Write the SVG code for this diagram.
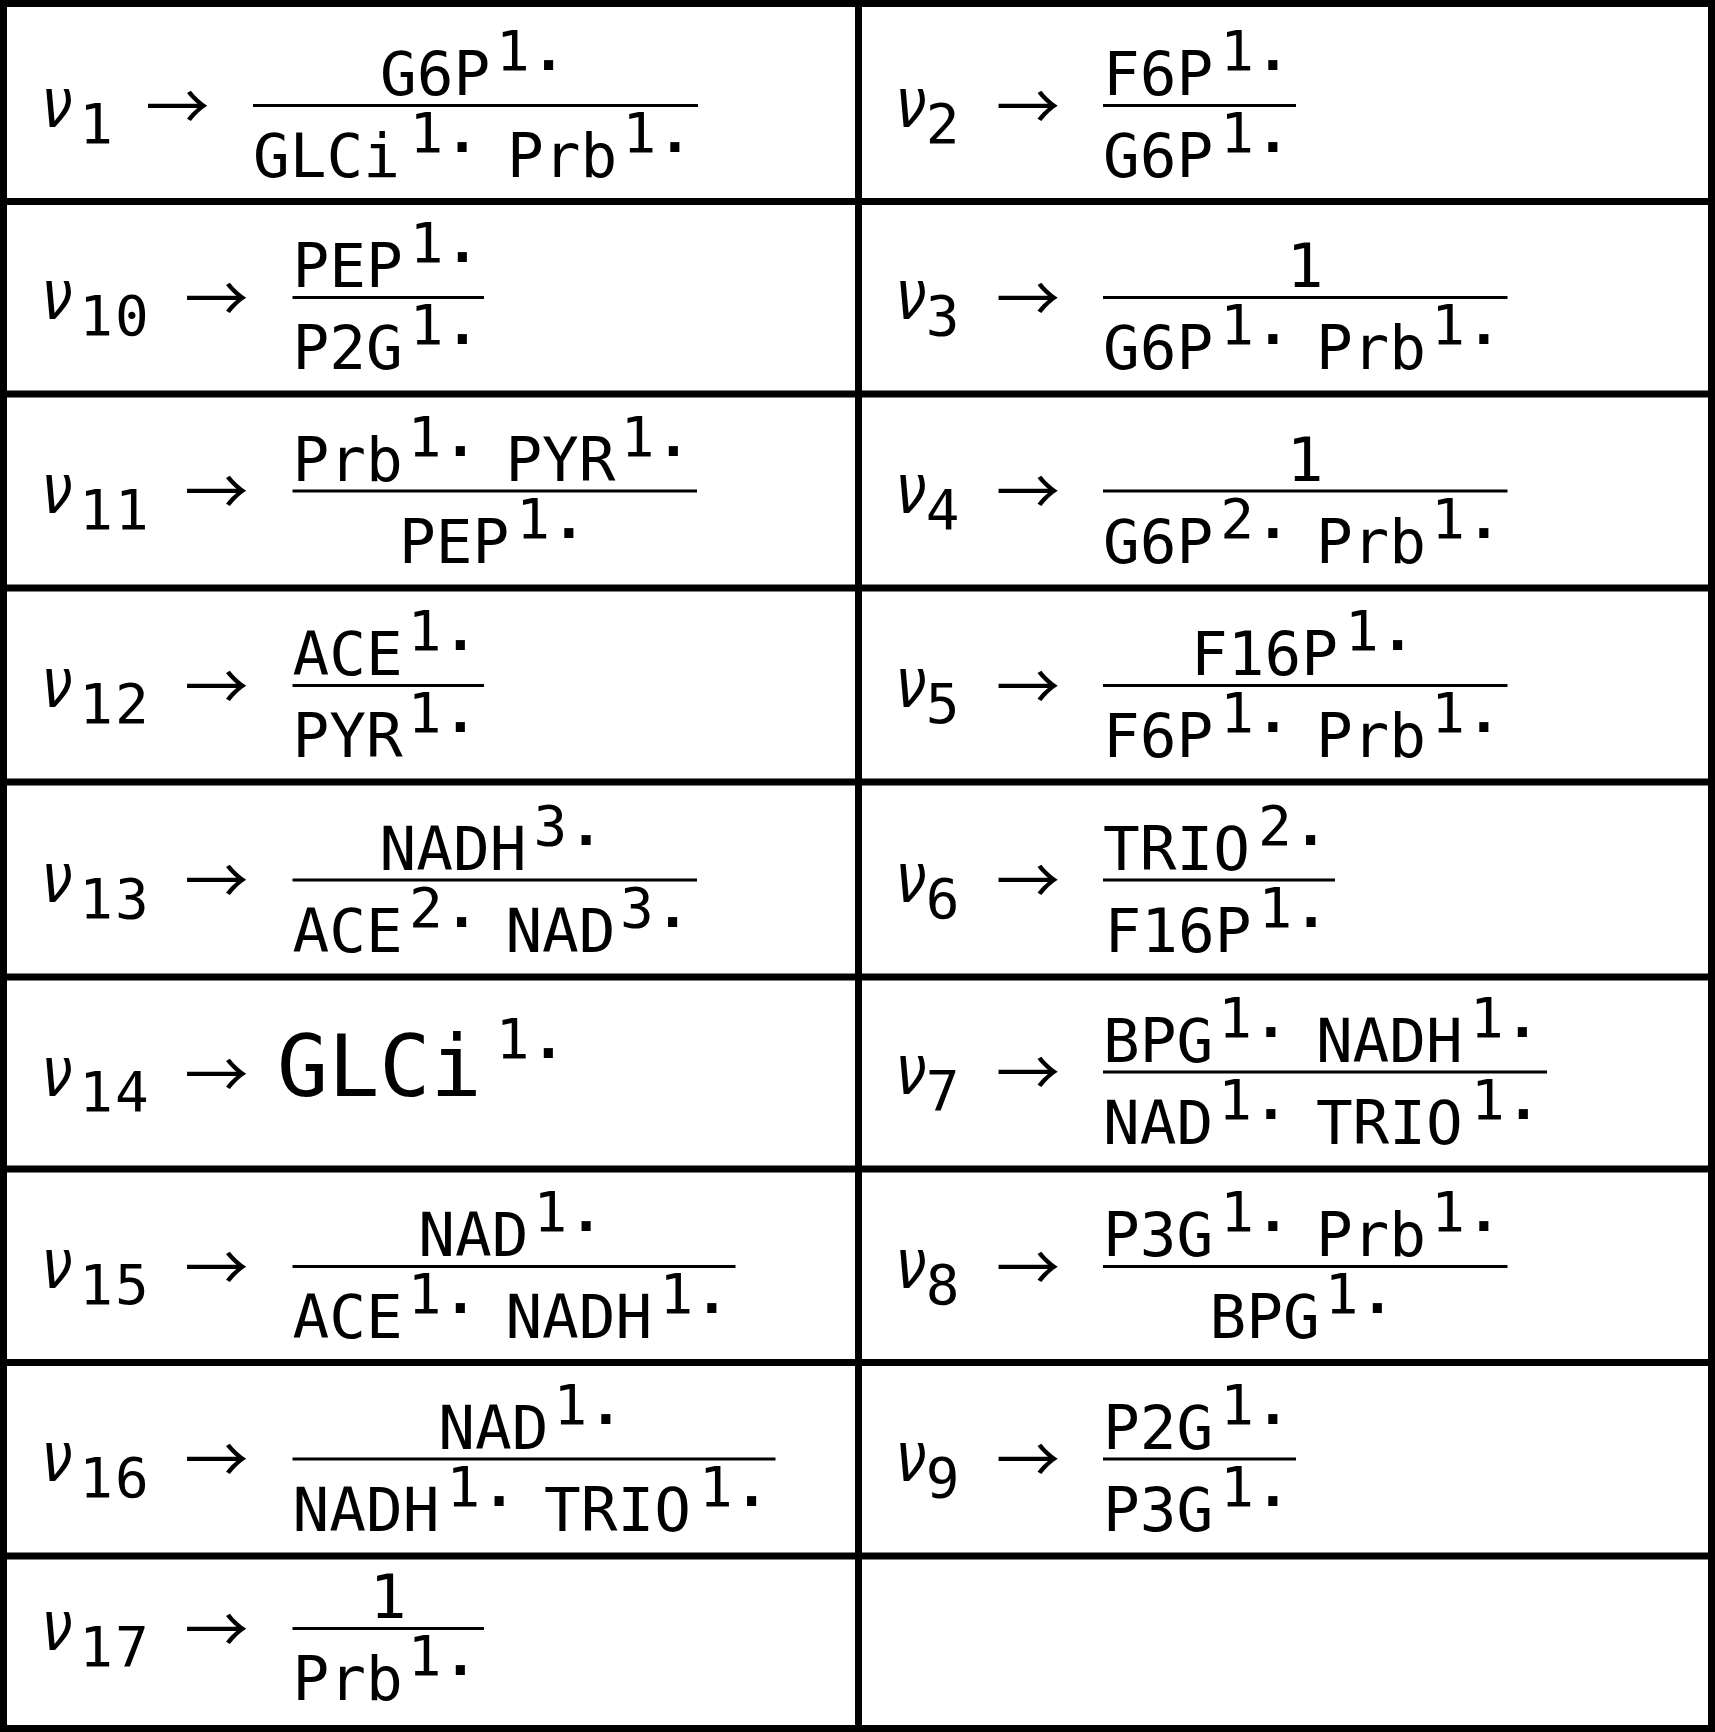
<svg xmlns="http://www.w3.org/2000/svg" width="1715" height="1732" viewBox="0 0 1715 1732">
<style>
text{font-family:"DejaVu Sans Mono",monospace;fill:#000}
.b{font-size:61px}
.B{font-size:85px}
.s{font-size:56px;letter-spacing:2px}
.d{font-weight:bold}
.nu{font-family:"DejaVu Sans",sans-serif;font-style:italic;font-size:70px}
.ar{font-family:"Noto Sans CJK JP","DejaVu Sans",sans-serif;font-size:64px}
.bar{stroke:#000;stroke-width:3}
.grid{fill:none;stroke:#000;stroke-width:7}
</style>
<rect width="1715" height="1732" fill="#fff"/>
<g id="grid">
<rect class="grid" x="3.5" y="3.5" width="1708" height="1725"/>
<path class="grid" d="M858.5 3.5V1728.5M3.5 201.5H1711.5M3.5 394H1711.5M3.5 588H1711.5M3.5 782H1711.5M3.5 977H1711.5M3.5 1169H1711.5M3.5 1362.5H1711.5M3.5 1556H1711.5"/>
</g>

<g id="connectors">
<line class="bar" x1="253" y1="105.5" x2="698" y2="105.5"/>
<line class="bar" x1="1103" y1="105.5" x2="1296" y2="105.5"/>
<line class="bar" x1="292.5" y1="297.5" x2="484" y2="297.5"/>
<line class="bar" x1="1103" y1="297.5" x2="1507.5" y2="297.5"/>
<line class="bar" x1="292.5" y1="491" x2="697" y2="491"/>
<line class="bar" x1="1103" y1="491" x2="1507.5" y2="491"/>
<line class="bar" x1="292.5" y1="685.5" x2="484" y2="685.5"/>
<line class="bar" x1="1103" y1="685.5" x2="1507.5" y2="685.5"/>
<line class="bar" x1="292.5" y1="880" x2="697" y2="880"/>
<line class="bar" x1="1103" y1="880" x2="1335" y2="880"/>
<line class="bar" x1="1103" y1="1072" x2="1547" y2="1072"/>
<line class="bar" x1="292.5" y1="1266.5" x2="735.5" y2="1266.5"/>
<line class="bar" x1="1103" y1="1266.5" x2="1507.5" y2="1266.5"/>
<line class="bar" x1="292.5" y1="1459" x2="775.5" y2="1459"/>
<line class="bar" x1="1103" y1="1459" x2="1296" y2="1459"/>
<line class="bar" x1="292.5" y1="1628.5" x2="484" y2="1628.5"/>
</g>

<g id="v1">
<text class="nu" text-anchor="middle" transform="translate(57,127) scale(0.8,1)">ν</text>
<text class="s" x="79.2" y="143">1</text>
<text class="ar" x="177.5" y="129.8" text-anchor="middle">→</text>
<text class="b"><tspan x="380" y="95">G6P</tspan><tspan class="s" x="496" y="70">1<tspan class="d">.</tspan></tspan><tspan x="253" y="177">GLCi</tspan><tspan class="s" x="409.5" y="152">1<tspan class="d">.</tspan></tspan><tspan x="507.1" y="177">Prb</tspan><tspan class="s" x="622.4" y="152">1<tspan class="d">.</tspan></tspan></text>
</g>

<g id="v2">
<text class="nu" text-anchor="middle" transform="translate(911,127) scale(0.8,1)">ν</text>
<text class="s" x="925.7" y="143">2</text>
<text class="ar" x="1028" y="129.8" text-anchor="middle">→</text>
<text class="b"><tspan x="1103" y="95">F6P</tspan><tspan class="s" x="1220.3" y="70">1<tspan class="d">.</tspan></tspan><tspan x="1103" y="177">G6P</tspan><tspan class="s" x="1220.3" y="152">1<tspan class="d">.</tspan></tspan></text>
</g>

<g id="v10">
<text class="nu" text-anchor="middle" transform="translate(57,319) scale(0.8,1)">ν</text>
<text class="s" x="79.2" y="335">10</text>
<text class="ar" x="216.5" y="321.8" text-anchor="middle">→</text>
<text class="b"><tspan x="292.5" y="287">PEP</tspan><tspan class="s" x="409.8" y="262">1<tspan class="d">.</tspan></tspan><tspan x="292.5" y="369">P2G</tspan><tspan class="s" x="409.8" y="344">1<tspan class="d">.</tspan></tspan></text>
</g>

<g id="v3">
<text class="nu" text-anchor="middle" transform="translate(911,319) scale(0.8,1)">ν</text>
<text class="s" x="925.7" y="335">3</text>
<text class="ar" x="1028" y="321.8" text-anchor="middle">→</text>
<text class="b"><tspan x="1305.2" y="287" text-anchor="middle">1</tspan><tspan x="1103" y="369">G6P</tspan><tspan class="s" x="1220.3" y="344">1<tspan class="d">.</tspan></tspan><tspan x="1315.9" y="369">Prb</tspan><tspan class="s" x="1431.2" y="344">1<tspan class="d">.</tspan></tspan></text>
</g>

<g id="v11">
<text class="nu" text-anchor="middle" transform="translate(57,512.5) scale(0.8,1)">ν</text>
<text class="s" x="79.2" y="528.5">11</text>
<text class="ar" x="216.5" y="515.3" text-anchor="middle">→</text>
<text class="b"><tspan x="292.5" y="480.5">Prb</tspan><tspan class="s" x="407.8" y="455.5">1<tspan class="d">.</tspan></tspan><tspan x="505.4" y="480.5">PYR</tspan><tspan class="s" x="620.7" y="455.5">1<tspan class="d">.</tspan></tspan><tspan x="399" y="562.5">PEP</tspan><tspan class="s" x="516.2" y="537.5">1<tspan class="d">.</tspan></tspan></text>
</g>

<g id="v4">
<text class="nu" text-anchor="middle" transform="translate(911,512.5) scale(0.8,1)">ν</text>
<text class="s" x="925.7" y="528.5">4</text>
<text class="ar" x="1028" y="515.3" text-anchor="middle">→</text>
<text class="b"><tspan x="1305.2" y="480.5" text-anchor="middle">1</tspan><tspan x="1103" y="562.5">G6P</tspan><tspan class="s" x="1220.3" y="537.5">2<tspan class="d">.</tspan></tspan><tspan x="1315.9" y="562.5">Prb</tspan><tspan class="s" x="1431.2" y="537.5">1<tspan class="d">.</tspan></tspan></text>
</g>

<g id="v12">
<text class="nu" text-anchor="middle" transform="translate(57,707) scale(0.8,1)">ν</text>
<text class="s" x="79.2" y="723">12</text>
<text class="ar" x="216.5" y="709.8" text-anchor="middle">→</text>
<text class="b"><tspan x="292.5" y="675">ACE</tspan><tspan class="s" x="407.8" y="650">1<tspan class="d">.</tspan></tspan><tspan x="292.5" y="757">PYR</tspan><tspan class="s" x="407.8" y="732">1<tspan class="d">.</tspan></tspan></text>
</g>

<g id="v5">
<text class="nu" text-anchor="middle" transform="translate(911,707) scale(0.8,1)">ν</text>
<text class="s" x="925.7" y="723">5</text>
<text class="ar" x="1028" y="709.8" text-anchor="middle">→</text>
<text class="b"><tspan x="1191.1" y="675">F16P</tspan><tspan class="s" x="1345.1" y="650">1<tspan class="d">.</tspan></tspan><tspan x="1103" y="757">F6P</tspan><tspan class="s" x="1220.3" y="732">1<tspan class="d">.</tspan></tspan><tspan x="1315.9" y="757">Prb</tspan><tspan class="s" x="1431.2" y="732">1<tspan class="d">.</tspan></tspan></text>
</g>

<g id="v13">
<text class="nu" text-anchor="middle" transform="translate(57,901.5) scale(0.8,1)">ν</text>
<text class="s" x="79.2" y="917.5">13</text>
<text class="ar" x="216.5" y="904.3" text-anchor="middle">→</text>
<text class="b"><tspan x="379.6" y="869.5">NADH</tspan><tspan class="s" x="533.6" y="844.5">3<tspan class="d">.</tspan></tspan><tspan x="292.5" y="951.5">ACE</tspan><tspan class="s" x="409" y="926.5">2<tspan class="d">.</tspan></tspan><tspan x="505.4" y="951.5">NAD</tspan><tspan class="s" x="620" y="926.5">3<tspan class="d">.</tspan></tspan></text>
</g>

<g id="v6">
<text class="nu" text-anchor="middle" transform="translate(911,901.5) scale(0.8,1)">ν</text>
<text class="s" x="925.7" y="917.5">6</text>
<text class="ar" x="1028" y="904.3" text-anchor="middle">→</text>
<text class="b"><tspan x="1103" y="869.5">TRIO</tspan><tspan class="s" x="1258" y="844.5">2<tspan class="d">.</tspan></tspan><tspan x="1104.5" y="951.5">F16P</tspan><tspan class="s" x="1258.5" y="926.5">1<tspan class="d">.</tspan></tspan></text>
</g>

<g id="v14">
<text class="nu" text-anchor="middle" transform="translate(57,1095.5) scale(0.8,1)">ν</text>
<text class="s" x="79.2" y="1111">14</text>
<text class="ar" x="216.5" y="1098.3" text-anchor="middle">→</text>
<text class="B" x="277" y="1095.7">GLCi<tspan class="s" x="495.7" y="1058">1<tspan class="d">.</tspan></tspan></text>
</g>

<g id="v7">
<text class="nu" text-anchor="middle" transform="translate(911,1093.5) scale(0.8,1)">ν</text>
<text class="s" x="925.7" y="1109.5">7</text>
<text class="ar" x="1028" y="1096.3" text-anchor="middle">→</text>
<text class="b"><tspan x="1103" y="1061.5">BPG</tspan><tspan class="s" x="1218.3" y="1036.5">1<tspan class="d">.</tspan></tspan><tspan x="1315.9" y="1061.5">NADH</tspan><tspan class="s" x="1469.9" y="1036.5">1<tspan class="d">.</tspan></tspan><tspan x="1103" y="1143.5">NAD</tspan><tspan class="s" x="1218.3" y="1118.5">1<tspan class="d">.</tspan></tspan><tspan x="1315.9" y="1143.5">TRIO</tspan><tspan class="s" x="1470.9" y="1118.5">1<tspan class="d">.</tspan></tspan></text>
</g>

<g id="v15">
<text class="nu" text-anchor="middle" transform="translate(57,1288) scale(0.8,1)">ν</text>
<text class="s" x="79.2" y="1304">15</text>
<text class="ar" x="216.5" y="1290.8" text-anchor="middle">→</text>
<text class="b"><tspan x="418.3" y="1256">NAD</tspan><tspan class="s" x="533.6" y="1231">1<tspan class="d">.</tspan></tspan><tspan x="292.5" y="1338">ACE</tspan><tspan class="s" x="407.8" y="1313">1<tspan class="d">.</tspan></tspan><tspan x="505.4" y="1338">NADH</tspan><tspan class="s" x="659.4" y="1313">1<tspan class="d">.</tspan></tspan></text>
</g>

<g id="v8">
<text class="nu" text-anchor="middle" transform="translate(911,1288) scale(0.8,1)">ν</text>
<text class="s" x="925.7" y="1304">8</text>
<text class="ar" x="1028" y="1290.8" text-anchor="middle">→</text>
<text class="b"><tspan x="1103" y="1256">P3G</tspan><tspan class="s" x="1220.3" y="1231">1<tspan class="d">.</tspan></tspan><tspan x="1315.9" y="1256">Prb</tspan><tspan class="s" x="1431.2" y="1231">1<tspan class="d">.</tspan></tspan><tspan x="1209.5" y="1338">BPG</tspan><tspan class="s" x="1324.7" y="1313">1<tspan class="d">.</tspan></tspan></text>
</g>

<g id="v16">
<text class="nu" text-anchor="middle" transform="translate(57,1480.5) scale(0.8,1)">ν</text>
<text class="s" x="79.2" y="1496.5">16</text>
<text class="ar" x="216.5" y="1483.3" text-anchor="middle">→</text>
<text class="b"><tspan x="438.2" y="1448.5">NAD</tspan><tspan class="s" x="553.4" y="1423.5">1<tspan class="d">.</tspan></tspan><tspan x="292.5" y="1530.5">NADH</tspan><tspan class="s" x="446.5" y="1505.5">1<tspan class="d">.</tspan></tspan><tspan x="544.1" y="1530.5">TRIO</tspan><tspan class="s" x="699.1" y="1505.5">1<tspan class="d">.</tspan></tspan></text>
</g>

<g id="v9">
<text class="nu" text-anchor="middle" transform="translate(911,1480.5) scale(0.8,1)">ν</text>
<text class="s" x="925.7" y="1496.5">9</text>
<text class="ar" x="1028" y="1483.3" text-anchor="middle">→</text>
<text class="b"><tspan x="1103" y="1448.5">P2G</tspan><tspan class="s" x="1220.3" y="1423.5">1<tspan class="d">.</tspan></tspan><tspan x="1103" y="1530.5">P3G</tspan><tspan class="s" x="1220.3" y="1505.5">1<tspan class="d">.</tspan></tspan></text>
</g>

<g id="v17">
<text class="nu" text-anchor="middle" transform="translate(57,1650) scale(0.8,1)">ν</text>
<text class="s" x="79.2" y="1666">17</text>
<text class="ar" x="216.5" y="1652.8" text-anchor="middle">→</text>
<text class="b"><tspan x="388.2" y="1618" text-anchor="middle">1</tspan><tspan x="292.5" y="1700">Prb</tspan><tspan class="s" x="407.8" y="1675">1<tspan class="d">.</tspan></tspan></text>
</g>
</svg>
